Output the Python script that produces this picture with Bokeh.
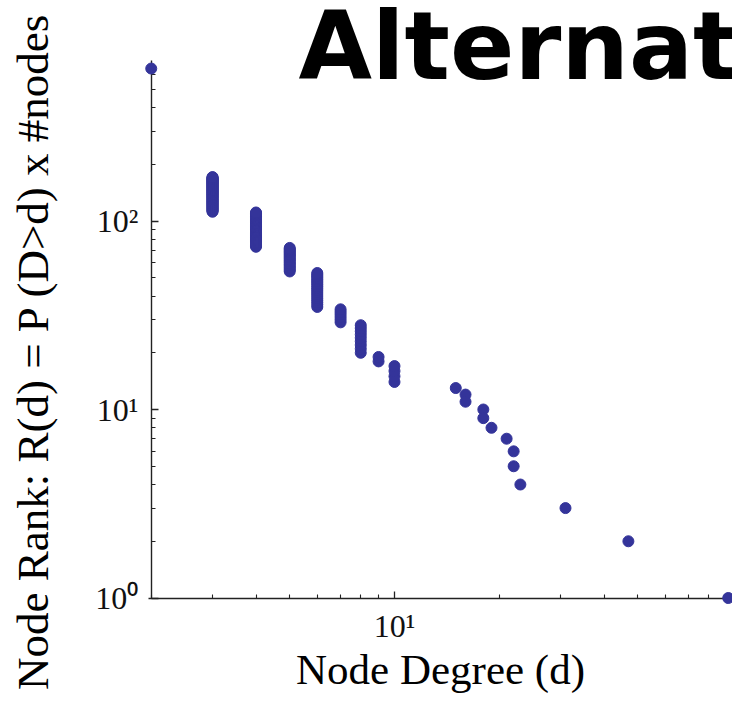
import numpy as np
from bokeh.plotting import figure
from bokeh.models import FixedTicker, Label, Range1d
from bokeh.embed import file_html
from bokeh.resources import INLINE

# ---- data ----
# vertical runs of nodes: each degree holds consecutive integer ranks
col_degree = [3, 4, 5, 6, 7, 8, 9, 10]
col_rank_top = [171, 111, 72, 53, 34, 28, 19, 17]
col_rank_bottom = [112, 73, 54, 35, 29, 20, 18, 14]

# isolated nodes
single_degree = [2, 15, 16, 16, 18, 18, 19, 21, 22, 22, 23, 31, 47, 91]
single_rank = [644, 13, 12, 11, 10, 9, 8, 7, 6, 5, 4, 3, 2, 1]

y_major = [1, 10, 100]
y_labels = ["10⁰", "10¹", "10²"]
x_major = [10]
x_labels = ["10¹"]

title_text = "Alternat"
x_title = "Node Degree (d)"
y_title = "Node Rank: R(d) = P (D>d) x #nodes"

# expand runs
cx, cy = [], []
for d, top, bot in zip(col_degree, col_rank_top, col_rank_bottom):
    for r in range(bot, top + 1):
        cx.append(d)
        cy.append(r)

all_deg = cx + single_degree
all_rank = cy + single_rank

BLUE = "#34349a"
AX = "#222222"
W, H = 732, 694

p = figure(width=W, height=H, output_backend="svg", toolbar_location=None,
           x_axis_type="log", y_axis_type="log",
           x_range=Range1d(0.7377, 93.6), y_range=Range1d(0.3077, 1478.6),
           min_border=0, min_border_left=0, min_border_right=0,
           min_border_top=0, min_border_bottom=0)
p.outline_line_color = None
p.grid.visible = False
p.background_fill_color = "white"
p.border_fill_color = "white"

p.scatter(cx, cy, size=11, color=BLUE, line_color=BLUE, level="overlay")
p.scatter(single_degree, single_rank, size=11, color=BLUE, line_color=BLUE, level="overlay")

minor_y = [m * 10 ** k for k in range(0, 3) for m in range(2, 10) if m * 10 ** k < 700]
minor_x = [m * 10 ** k for k in range(0, 2) for m in range(2, 10)]

p.yaxis.ticker = FixedTicker(ticks=y_major, minor_ticks=minor_y)
p.xaxis.ticker = FixedTicker(ticks=x_major, minor_ticks=minor_x)
p.yaxis.major_label_overrides = {v: t for v, t in zip(y_major, y_labels)}
p.xaxis.major_label_overrides = {v: t for v, t in zip(x_major, x_labels)}

# axes cross at the lowest degree / lowest rank
p.xaxis.fixed_location = min(all_rank)
p.yaxis.fixed_location = min(all_deg)
p.xaxis.bounds = (1.964, 93.6)
p.yaxis.bounds = (min(all_rank), 710)

for ax in (p.xaxis, p.yaxis):
    ax.axis_line_color = AX
    ax.axis_line_width = 1.4
    ax.major_tick_line_color = AX
    ax.minor_tick_line_color = AX
    ax.major_tick_line_width = 1.3
    ax.minor_tick_line_width = 1.1
    ax.major_tick_in = 7
    ax.major_tick_out = 0
    ax.minor_tick_in = 4
    ax.minor_tick_out = 0
    ax.major_label_text_font = "Liberation Serif"
    ax.major_label_text_font_size = "32px"
    ax.major_label_text_color = "#111111"
p.xaxis.major_label_standoff = 10
p.yaxis.major_label_standoff = 13

p.add_layout(Label(x=298, y=H - 45, x_units="screen", y_units="screen", text=title_text,
                   text_font="DejaVu Sans", text_font_style="bold", text_font_size="95px",
                   text_color="black", text_align="left", text_baseline="middle"))
p.add_layout(Label(x=440, y=H - 669, x_units="screen", y_units="screen", text=x_title,
                   text_font="Liberation Serif", text_font_size="43px",
                   text_color="black", text_align="center", text_baseline="middle"))
p.add_layout(Label(x=32, y=H - 351, x_units="screen", y_units="screen", text=y_title,
                   angle=np.pi / 2, text_font="Liberation Serif", text_font_size="45px",
                   text_color="black", text_align="center", text_baseline="middle"))

open("out.html", "w").write(file_html(p, INLINE))
